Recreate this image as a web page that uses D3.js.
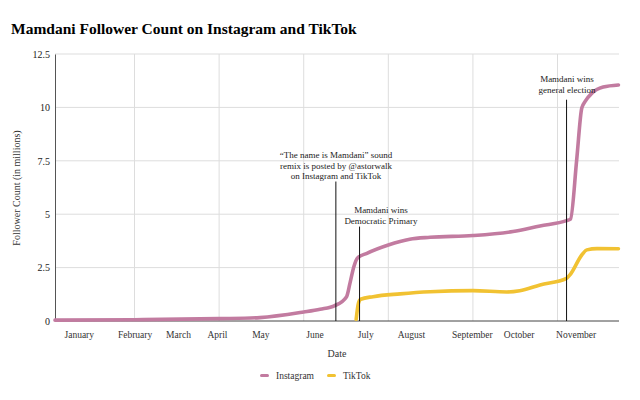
<!DOCTYPE html>
<html>
  <head>
    <meta charset="utf-8">
    <title>Mamdani Follower Count on Instagram and TikTok</title>
    <script src="https://cdn.jsdelivr.net/npm/d3@7"></script>
    <style>
      body { margin: 0; background: #fff; }
      text { font-family: "Liberation Serif", "Times New Roman", serif; fill: #222; }
    </style>
  </head>
  <body>
    <svg id="chart" width="640" height="400"></svg>
    <script>
      // x is a position along the sheet's category axis (0 = first row, 1000 = last row)
      var instaX = [0, 141, 291, 363, 441, 470, 496, 517, 523, 530, 536, 553, 591, 629, 665, 741, 812, 860, 907, 914, 925, 934, 940, 952, 972, 999];
      var instaY = [0.04, 0.06, 0.11, 0.16, 0.42, 0.55, 0.72, 1.14, 1.77, 2.55, 2.94, 3.17, 3.56, 3.83, 3.92, 4.0, 4.19, 4.45, 4.7, 4.77, 7.55, 9.97, 10.28, 10.67, 10.95, 11.05];
      var tiktokX = [534, 538, 542, 564, 612, 665, 741, 801, 824, 860, 907, 913, 934, 943, 961, 999];
      var tiktokY = [0.08, 0.83, 1.02, 1.14, 1.27, 1.37, 1.42, 1.36, 1.42, 1.69, 2.0, 2.16, 3.09, 3.33, 3.39, 3.38];
      var monthNames = ["January", "February", "March", "April", "May", "June", "July", "August", "September", "October", "November"];
      var monthPos = [43, 142, 219, 288, 365, 461, 551, 632, 740, 823, 924];
      var gridPos = [141, 291, 441, 591, 741, 891];
      var yTicks = [0, 2.5, 5, 7.5, 10, 12.5];
      var notes = [
        { x: 498, top: 6.53, lines: ["\u201CThe name is Mamdani\u201D sound", "remix is posted by @astorwalk", "on Instagram and TikTok"], tx: 336, ty: 158 },
        { x: 540, top: 4.42, lines: ["Mamdani wins", "Democratic Primary"], tx: 381, ty: 213 },
        { x: 907, top: 10.36, lines: ["Mamdani wins", "general election"], tx: 567, ty: 82 }
      ];

      var svg = d3.select("#chart");
      var plotLeft = 55, plotRight = 619, plotTop = 54, plotBottom = 321;

      var x = d3.scaleLinear().domain([0, 1000]).range([plotLeft, plotRight]);
      var y = d3.scaleLinear().domain([0, 12.5]).range([plotBottom, plotTop]);

      svg.append("text")
        .attr("x", 11).attr("y", 34)
        .style("font-size", "15.5px").style("font-weight", "bold").style("fill", "#000")
        .text("Mamdani Follower Count on Instagram and TikTok");

      // gridlines
      svg.append("g").selectAll("line").data(yTicks.slice(1)).join("line")
        .attr("x1", plotLeft).attr("x2", plotRight)
        .attr("y1", function(d) { return y(d); }).attr("y2", function(d) { return y(d); })
        .attr("stroke", "#ddd").attr("stroke-width", 1);
      svg.append("g").selectAll("line").data(gridPos).join("line")
        .attr("x1", function(d) { return x(d); }).attr("x2", function(d) { return x(d); })
        .attr("y1", plotTop).attr("y2", plotBottom)
        .attr("stroke", "#ddd").attr("stroke-width", 1);

      // axes
      var yAxis = svg.append("g")
        .attr("transform", "translate(" + plotLeft + ",0)")
        .call(d3.axisLeft(y).tickValues(yTicks).tickSize(0).tickPadding(5).tickFormat(d3.format("")));
      yAxis.select(".domain").attr("stroke", "#555");
      yAxis.selectAll("text").style("font-size", "10px").style("font-family", "Liberation Serif, serif").attr("fill", "#333");

      svg.append("line")
        .attr("x1", plotLeft).attr("x2", plotRight).attr("y1", plotBottom).attr("y2", plotBottom)
        .attr("stroke", "#444").attr("stroke-width", 1);

      svg.append("g").selectAll("text").data(monthNames).join("text")
        .attr("x", function(d, i) { return x(monthPos[i]); })
        .attr("y", 338)
        .attr("text-anchor", "middle")
        .style("font-size", "9.5px").style("fill", "#333")
        .text(function(d) { return d; });

      svg.append("text")
        .attr("transform", "translate(20,188) rotate(-90)")
        .attr("text-anchor", "middle")
        .style("font-size", "10px").style("fill", "#333")
        .text("Follower Count (in millions)");

      svg.append("text")
        .attr("x", 337).attr("y", 357)
        .attr("text-anchor", "middle")
        .style("font-size", "10px").style("fill", "#333")
        .text("Date");

      // series
      var line = d3.line().curve(d3.curveMonotoneX)
        .x(function(d) { return x(d[0]); })
        .y(function(d) { return y(d[1]); });
      svg.append("path")
        .datum(d3.zip(instaX, instaY))
        .attr("d", line)
        .attr("fill", "none").attr("stroke", "#c27ba0").attr("stroke-width", 3.6)
        .attr("stroke-linejoin", "round").attr("stroke-linecap", "round");
      svg.append("path")
        .datum(d3.zip(tiktokX, tiktokY))
        .attr("d", line)
        .attr("fill", "none").attr("stroke", "#f1c232").attr("stroke-width", 3.6)
        .attr("stroke-linejoin", "round").attr("stroke-linecap", "round");

      // annotations
      var note = svg.append("g").selectAll("g").data(notes).join("g");
      note.append("line")
        .attr("x1", function(d) { return x(d.x); }).attr("x2", function(d) { return x(d.x); })
        .attr("y1", function(d) { return y(d.top); }).attr("y2", plotBottom)
        .attr("stroke", "#111").attr("stroke-width", 1);
      note.each(function(d) {
        d3.select(this).selectAll("text").data(d.lines).join("text")
          .attr("x", d.tx)
          .attr("y", function(t, i) { return d.ty + i * 10.5; })
          .attr("text-anchor", "middle")
          .style("font-size", "9px").style("fill", "#222")
          .text(function(t) { return t; });
      });

      // legend
      var legend = [["Instagram", "#c27ba0", 260], ["TikTok", "#f1c232", 327]];
      var lg = svg.append("g").selectAll("g").data(legend).join("g");
      lg.append("rect")
        .attr("x", function(d) { return d[2]; }).attr("y", 374)
        .attr("width", 9).attr("height", 3).attr("rx", 1.5)
        .attr("fill", function(d) { return d[1]; });
      lg.append("text")
        .attr("x", function(d) { return d[2] + 16; }).attr("y", 379)
        .style("font-size", "9.5px").style("fill", "#333")
        .text(function(d) { return d[0]; });
    </script>
  </body>
</html>
